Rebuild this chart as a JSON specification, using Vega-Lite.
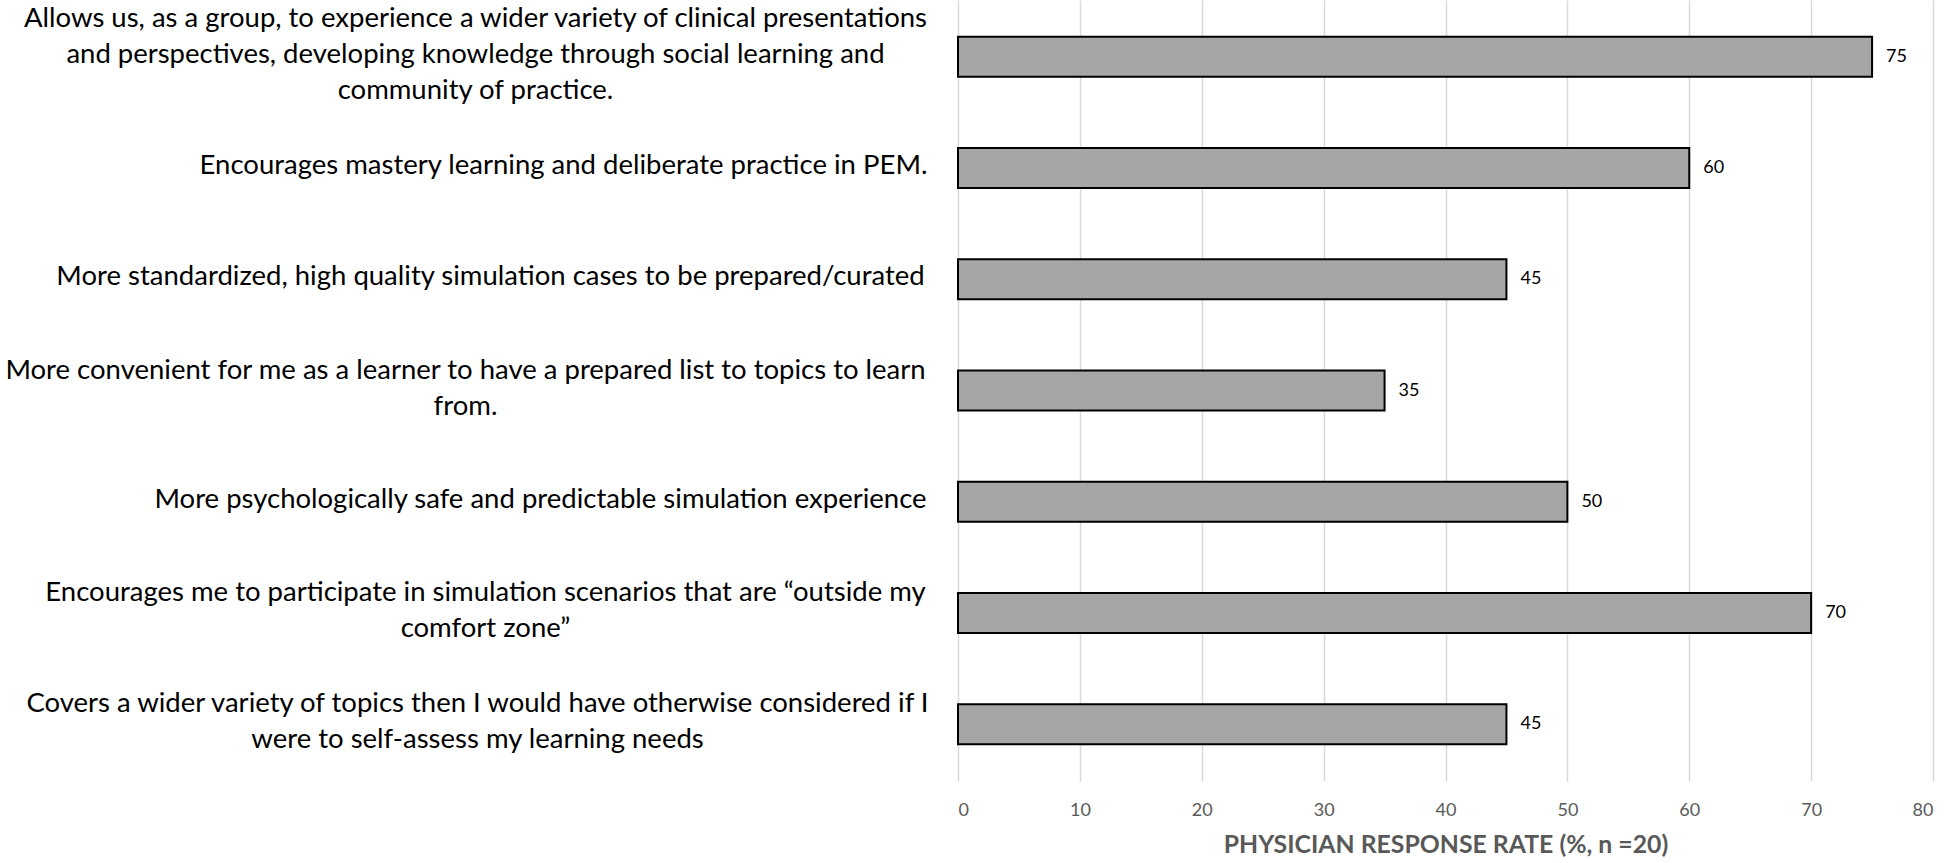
{
  "$schema": "https://vega.github.io/schema/vega-lite/v6.json",
  "autosize": {"type": "none"},
  "width": 975,
  "height": 781,
  "padding": {"left": 958, "top": 0, "right": 13, "bottom": 82},
  "background": "white",
  "config": {"view": {"stroke": null}},
  "data": {
    "values": [
      {"item": "Allows us, as a group, to experience a wider variety of clinical presentations|and perspectives, developing knowledge through social learning and|community of practice.", "rate": 75},
      {"item": "Encourages mastery learning and deliberate practice in PEM.", "rate": 60},
      {"item": "More standardized, high quality simulation cases to be prepared/curated", "rate": 45},
      {"item": "More convenient for me as a learner to have a prepared list to topics to learn|from.", "rate": 35},
      {"item": "More psychologically safe and predictable simulation experience", "rate": 50},
      {"item": "Encourages me to participate in simulation scenarios that are \u201coutside my|comfort zone\u201d", "rate": 70},
      {"item": "Covers a wider variety of topics then I would have otherwise considered if I|were to self-assess my learning needs", "rate": 45}
    ]
  },
  "encoding": {
    "y": {
      "field": "item",
      "type": "nominal",
      "sort": null,
      "scale": {"paddingInner": 0.64, "paddingOuter": 0.33},
      "axis": {
        "title": null,
        "domain": false,
        "ticks": false,
        "labelExpr": "split(datum.label, '|')",
        "labelAlign": "center",
        "labelBaseline": "middle",
        "labelFont": "Lato",
        "labelFontSize": 27.5,
        "labelLineHeight": 36,
        "labelColor": "black",
        "labelLimit": 2000,
        "labelOffset": {"expr": "-(length(split(datum.value,'|'))-1)*18 - 2"},
        "labelPadding": {"expr": "indexof(datum.value,'Allows')===0 ? 483 : indexof(datum.value,'Encourages mastery')===0 ? 395 : indexof(datum.value,'More standardized')===0 ? 468 : indexof(datum.value,'More convenient')===0 ? 493 : indexof(datum.value,'More psych')===0 ? 418 : indexof(datum.value,'Encourages me')===0 ? 473 : 481"}
      }
    },
    "x": {
      "field": "rate",
      "type": "quantitative",
      "scale": {"domain": [0, 80], "nice": false},
      "axis": {
        "title": "PHYSICIAN RESPONSE RATE (%, n =20)",
        "values": [0, 10, 20, 30, 40, 50, 60, 70, 80],
        "domain": false,
        "ticks": false,
        "grid": true,
        "gridColor": "#d9d9d9",
        "gridWidth": 1.5,
        "labelFont": "Lato",
        "labelFontSize": 18,
        "labelColor": "#595959",
        "labelPadding": 20,
        "titleFont": "Lato",
        "titleFontSize": 24.8,
        "titleFontWeight": "bold",
        "titleColor": "#595959",
        "titlePadding": 13
      }
    }
  },
  "layer": [
    {
      "mark": {"type": "bar", "fill": "#a6a6a6", "stroke": "black", "strokeWidth": 2}
    },
    {
      "mark": {"type": "text", "align": "left", "baseline": "middle", "dx": 14, "font": "Lato", "fontSize": 18, "color": "black"},
      "encoding": {"text": {"field": "rate", "type": "quantitative"}}
    }
  ]
}
